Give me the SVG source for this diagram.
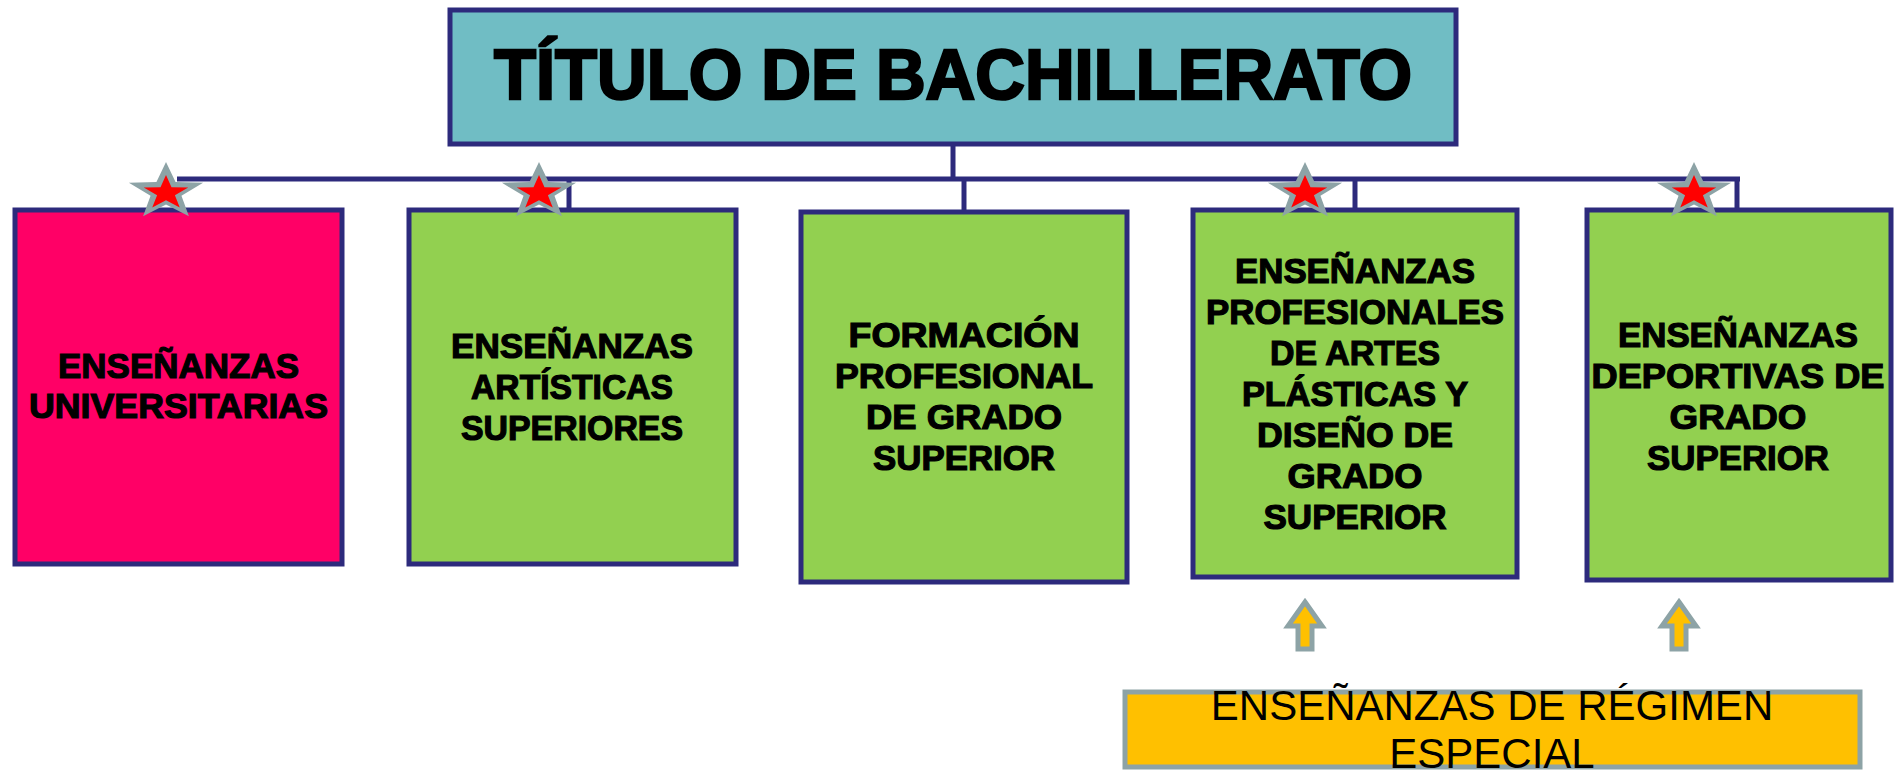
<svg xmlns="http://www.w3.org/2000/svg" xmlns:xlink="http://www.w3.org/1999/xlink" width="1903" height="772" viewBox="0 0 1903 772">
<style>
.box{stroke:#2D2A7C;stroke-width:5}
.green{fill:#92D050}
.lbl{font-family:"Liberation Sans",Arial,sans-serif;font-weight:bold;font-size:35px;fill:#000;stroke:#000;stroke-width:1.2;text-anchor:middle}
.title{font-family:"Liberation Sans",Arial,sans-serif;font-weight:bold;font-size:71px;fill:#000;stroke:#000;stroke-width:2.5;text-anchor:middle}
.conn{stroke:#2D2A7C;stroke-width:5;fill:none}
.reg{font-family:"Liberation Sans",Arial,sans-serif;font-size:42px;fill:#000;text-anchor:middle}
.arrow{fill:#FFC000;stroke:#8DA3A6;stroke-width:5}
</style>
<defs>
<g id="star">
<polygon points="0,-30 7.35,-10.11 28.53,-9.27 11.89,3.86 17.63,24.27 0,12.5 -17.63,24.27 -11.89,3.86 -28.53,-9.27 -7.35,-10.11" fill="#8DA3A6"/>
<polygon points="0,-18 4.23,-5.82 17.12,-5.56 6.85,2.22 10.58,14.56 0,7.2 -10.58,14.56 -6.85,2.22 -17.12,-5.56 -4.23,-5.82" fill="#FF0000" transform="translate(0,1)"/>
</g>
<polygon id="uparrow" class="arrow" points="0,0 17,24 7,24 7,47 -7,47 -7,24 -17,24"/>
</defs>
<rect width="1903" height="772" fill="#fff"/>
<g id="connectors">
<line class="conn" x1="177" y1="179" x2="1740" y2="179"/>
<line class="conn" x1="953" y1="144" x2="953" y2="179"/>
<line class="conn" x1="569" y1="179" x2="569" y2="210"/>
<line class="conn" x1="964" y1="179" x2="964" y2="212"/>
<line class="conn" x1="1355" y1="179" x2="1355" y2="210"/>
<line class="conn" x1="1737" y1="179" x2="1737" y2="210"/>
</g>
<g id="title">
<rect class="box" x="450" y="10" width="1006" height="134" fill="#70BDC4"/>
<text class="title" x="953" y="99" textLength="918" lengthAdjust="spacingAndGlyphs">TÍTULO DE BACHILLERATO</text>
</g>
<g id="universitarias">
<rect class="box" x="15" y="210" width="327" height="354" fill="#FF0066"/>
<text class="lbl" x="178.5" y="378" textLength="241" lengthAdjust="spacingAndGlyphs">ENSEÑANZAS</text>
<text class="lbl" x="178.5" y="418" textLength="299" lengthAdjust="spacingAndGlyphs">UNIVERSITARIAS</text>
</g>
<g id="artisticas">
<rect class="box green" x="409" y="210" width="327" height="354"/>
<text class="lbl" x="572" y="358" textLength="242" lengthAdjust="spacingAndGlyphs">ENSEÑANZAS</text>
<text class="lbl" x="572" y="399" textLength="202" lengthAdjust="spacingAndGlyphs">ARTÍSTICAS</text>
<text class="lbl" x="572" y="440" textLength="222" lengthAdjust="spacingAndGlyphs">SUPERIORES</text>
</g>
<g id="fp">
<rect class="box green" x="801" y="212" width="326" height="370"/>
<text class="lbl" x="964" y="347" textLength="231" lengthAdjust="spacingAndGlyphs">FORMACIÓN</text>
<text class="lbl" x="964" y="388" textLength="258" lengthAdjust="spacingAndGlyphs">PROFESIONAL</text>
<text class="lbl" x="964" y="429" textLength="196" lengthAdjust="spacingAndGlyphs">DE GRADO</text>
<text class="lbl" x="964" y="470" textLength="182" lengthAdjust="spacingAndGlyphs">SUPERIOR</text>
</g>
<g id="artes-plasticas">
<rect class="box green" x="1193" y="210" width="324" height="367"/>
<text class="lbl" x="1355" y="283" textLength="240" lengthAdjust="spacingAndGlyphs">ENSEÑANZAS</text>
<text class="lbl" x="1355" y="324" textLength="298" lengthAdjust="spacingAndGlyphs">PROFESIONALES</text>
<text class="lbl" x="1355" y="365" textLength="170" lengthAdjust="spacingAndGlyphs">DE ARTES</text>
<text class="lbl" x="1355" y="406" textLength="226" lengthAdjust="spacingAndGlyphs">PLÁSTICAS Y</text>
<text class="lbl" x="1355" y="447" textLength="196" lengthAdjust="spacingAndGlyphs">DISEÑO DE</text>
<text class="lbl" x="1355" y="488" textLength="135" lengthAdjust="spacingAndGlyphs">GRADO</text>
<text class="lbl" x="1355" y="529" textLength="183" lengthAdjust="spacingAndGlyphs">SUPERIOR</text>
</g>
<g id="deportivas">
<rect class="box green" x="1587" y="210" width="304" height="370"/>
<text class="lbl" x="1738" y="347" textLength="240" lengthAdjust="spacingAndGlyphs">ENSEÑANZAS</text>
<text class="lbl" x="1738" y="388" textLength="293" lengthAdjust="spacingAndGlyphs">DEPORTIVAS DE</text>
<text class="lbl" x="1738" y="429" textLength="137" lengthAdjust="spacingAndGlyphs">GRADO</text>
<text class="lbl" x="1738" y="470" textLength="182" lengthAdjust="spacingAndGlyphs">SUPERIOR</text>
</g>
<g id="stars">
<use xlink:href="#star" transform="translate(166,192) scale(1.3,1)"/>
<use xlink:href="#star" transform="translate(539,192) scale(1.3,1)"/>
<use xlink:href="#star" transform="translate(1305,192) scale(1.3,1)"/>
<use xlink:href="#star" transform="translate(1694,192) scale(1.3,1)"/>
</g>
<g id="arrows">
<use xlink:href="#uparrow" x="1305" y="602"/>
<use xlink:href="#uparrow" x="1679" y="602"/>
</g>
<g id="regimen-especial">
<rect x="1125" y="692" width="735" height="75" fill="#FFC000" stroke="#8DA3A6" stroke-width="5"/>
<text class="reg" x="1492" y="720">ENSEÑANZAS DE RÉGIMEN</text>
<text class="reg" x="1492" y="768">ESPECIAL</text>
</g>
</svg>
